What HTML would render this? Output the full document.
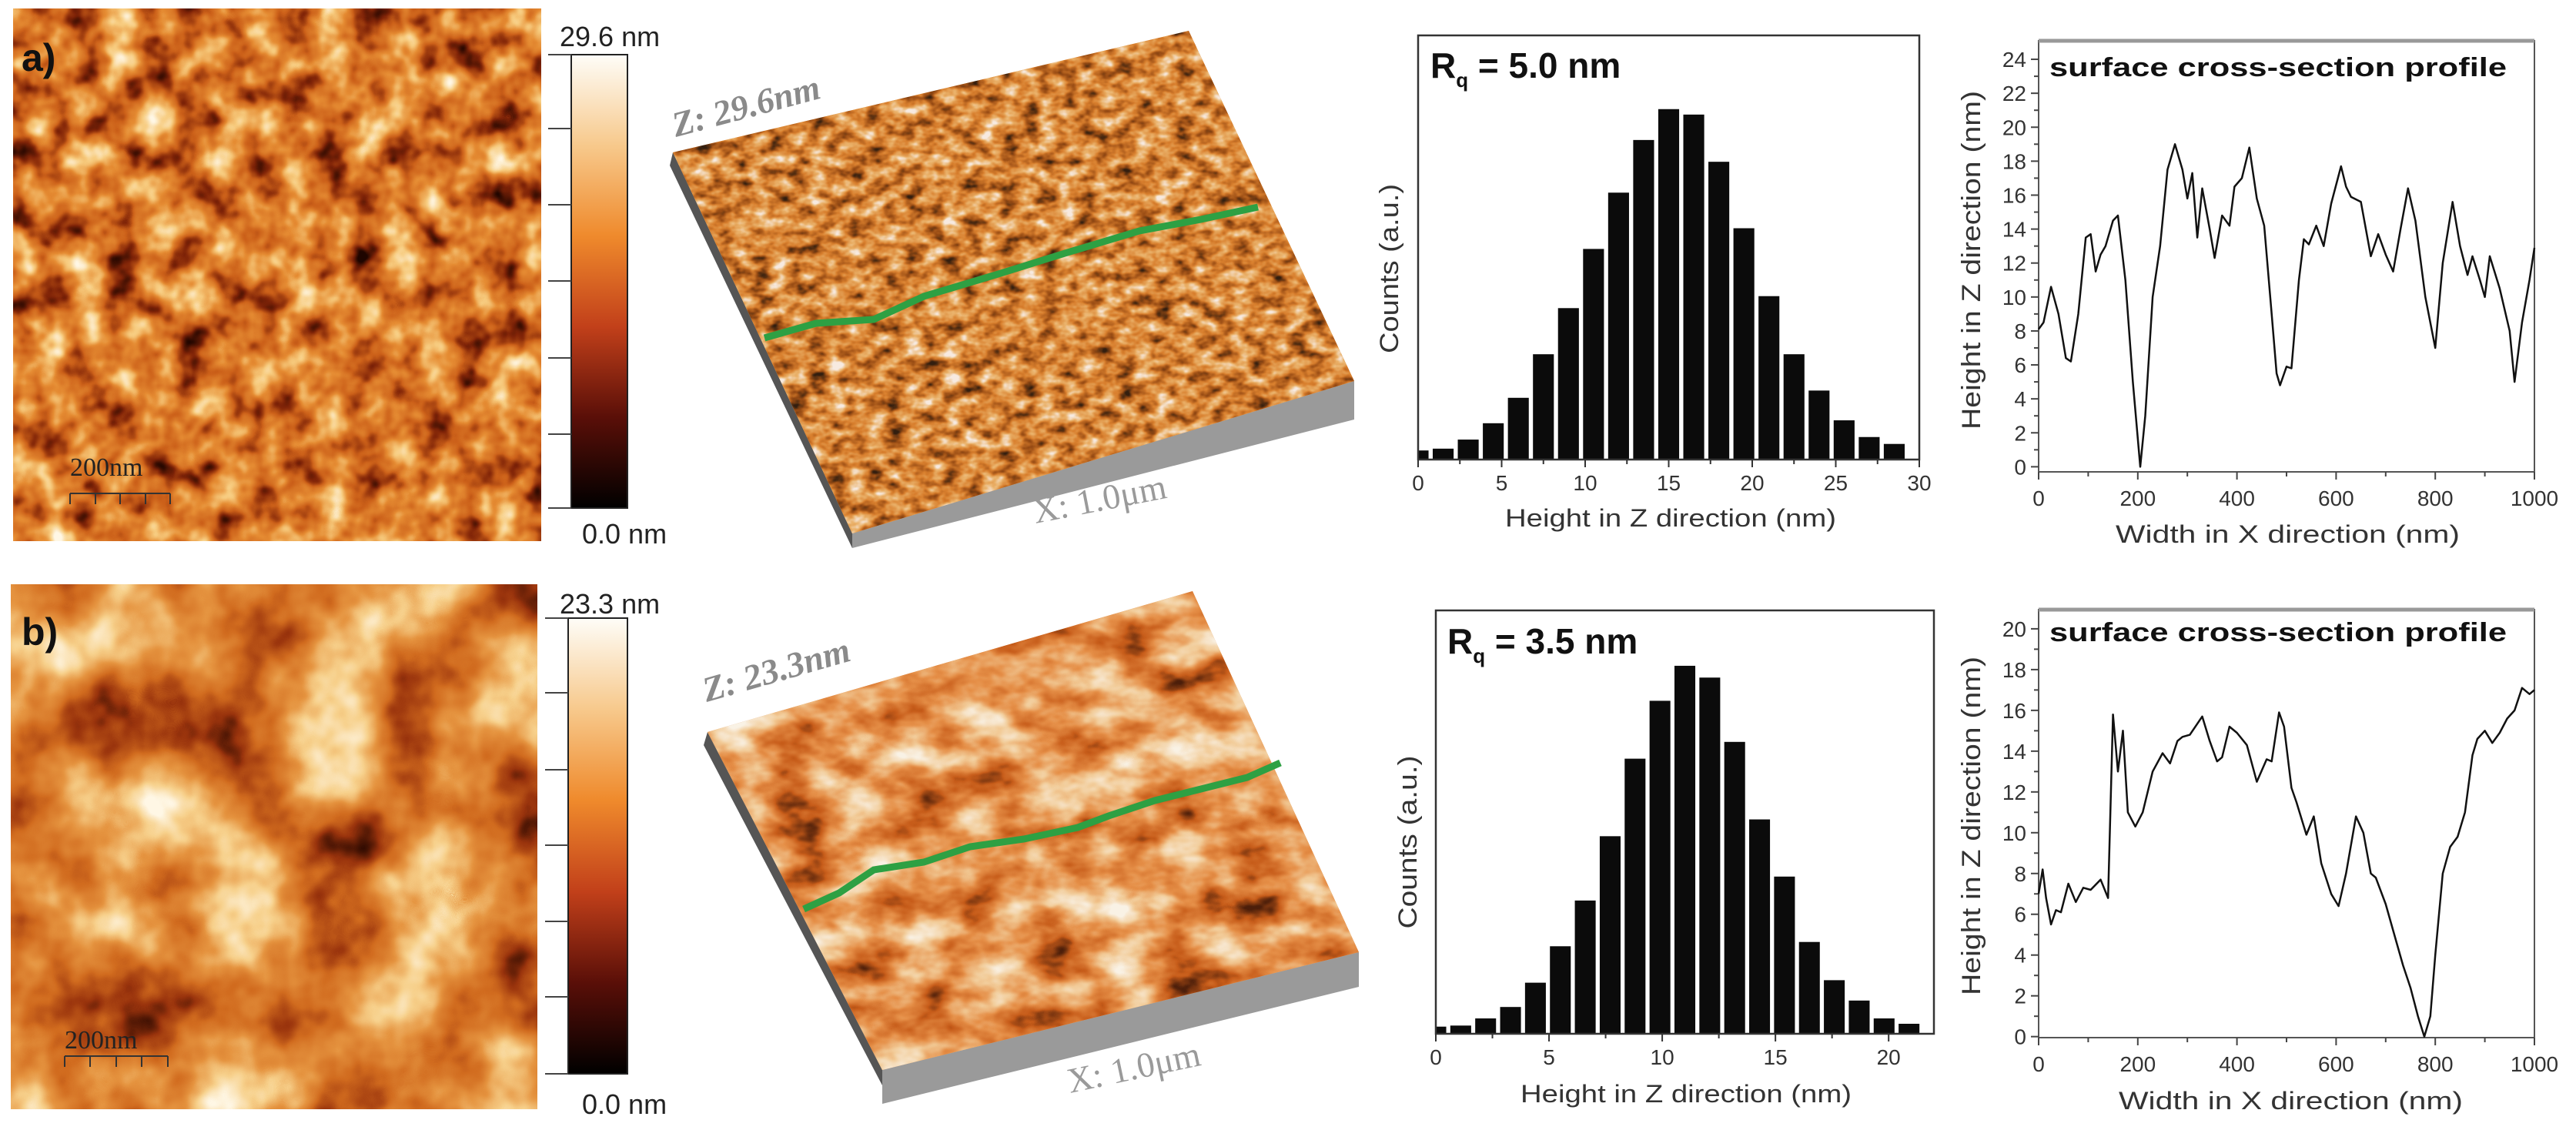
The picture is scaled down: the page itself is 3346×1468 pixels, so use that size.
<!DOCTYPE html>
<html><head><meta charset="utf-8"><style>
html,body{margin:0;padding:0;background:#fff}
svg{display:block}
text{font-family:"Liberation Sans",sans-serif}
text.serif{font-family:"Liberation Serif",serif}
</style></head><body>
<svg id="fig" width="3346" height="1468" viewBox="0 0 3346 1468" xmlns="http://www.w3.org/2000/svg">
<defs>
<filter id="afmA" x="0" y="0" width="100%" height="100%" color-interpolation-filters="sRGB">
<feTurbulence type="fractalNoise" baseFrequency="0.022" numOctaves="3" seed="4"/>
<feColorMatrix type="matrix" values="1.35 0 0 0 -0.17  1.35 0 0 0 -0.17  1.35 0 0 0 -0.17  0 0 0 0 1"/>
<feComponentTransfer><feFuncR type="table" tableValues="0.12 0.5 0.8 0.9 0.97 1"/><feFuncG type="table" tableValues="0.02 0.14 0.38 0.55 0.8 0.97"/><feFuncB type="table" tableValues="0.0 0.03 0.1 0.2 0.5 0.9"/></feComponentTransfer>
</filter>
<filter id="afmB" x="0" y="0" width="100%" height="100%" color-interpolation-filters="sRGB">
<feTurbulence type="fractalNoise" baseFrequency="0.008" numOctaves="4" seed="9"/>
<feColorMatrix type="matrix" values="1.35 0 0 0 -0.15  1.35 0 0 0 -0.15  1.35 0 0 0 -0.15  0 0 0 0 1"/>
<feComponentTransfer><feFuncR type="table" tableValues="0.15 0.6 0.82 0.9 0.97 1"/><feFuncG type="table" tableValues="0.03 0.2 0.42 0.58 0.82 0.97"/><feFuncB type="table" tableValues="0.0 0.05 0.12 0.25 0.55 0.9"/></feComponentTransfer>
</filter>
<filter id="surfA" x="0" y="0" width="100%" height="100%" color-interpolation-filters="sRGB">
<feTurbulence type="fractalNoise" baseFrequency="0.04 0.06" numOctaves="3" seed="2"/>
<feColorMatrix type="matrix" values="1.5 0 0 0 -0.22  1.5 0 0 0 -0.22  1.5 0 0 0 -0.22  0 0 0 0 1"/>
<feComponentTransfer><feFuncR type="table" tableValues="0.2 0.6 0.85 0.92 0.97"/><feFuncG type="table" tableValues="0.12 0.3 0.5 0.7 0.92"/><feFuncB type="table" tableValues="0.06 0.08 0.18 0.42 0.88"/></feComponentTransfer>
</filter>
<filter id="surfB" x="0" y="0" width="100%" height="100%" color-interpolation-filters="sRGB">
<feTurbulence type="fractalNoise" baseFrequency="0.012 0.02" numOctaves="4" seed="5"/>
<feColorMatrix type="matrix" values="1.5 0 0 0 -0.22  1.5 0 0 0 -0.22  1.5 0 0 0 -0.22  0 0 0 0 1"/>
<feComponentTransfer><feFuncR type="table" tableValues="0.3 0.78 0.9 0.95 0.98"/><feFuncG type="table" tableValues="0.12 0.36 0.56 0.8 0.95"/><feFuncB type="table" tableValues="0.04 0.1 0.28 0.6 0.9"/></feComponentTransfer>
</filter>
<linearGradient id="cbar" x1="0" y1="1" x2="0" y2="0">
<stop offset="0" stop-color="#000"/><stop offset="0.2" stop-color="#5a0f08"/><stop offset="0.4" stop-color="#c2401a"/><stop offset="0.6" stop-color="#ef8a2c"/><stop offset="0.8" stop-color="#f7c98c"/><stop offset="1" stop-color="#fefdf8"/>
</linearGradient>
<clipPath id="clipSA"><polygon points="874,198 1544,40 1759,495 1107,693"/></clipPath>
<clipPath id="clipSB"><polygon points="919,951 1549,768 1765,1237 1146,1390"/></clipPath>
</defs>

<!-- Panel a left -->
<g>
<rect x="17" y="11" width="686" height="692" fill="#e07a2a"/>
<rect x="17" y="11" width="686" height="692" filter="url(#afmA)"/>
</g>
<text x="28" y="92" font-size="50" font-weight="bold" fill="#111">a)</text>
<g>
<text class="serif" x="91" y="618" font-size="34" fill="#222">200nm</text>
<path d="M91 641H221M91 641v14M124 641v14M156 641v14M189 641v14M221 641v14" stroke="#333" stroke-width="2" fill="none"/>
</g>
<g>
<rect x="742" y="71" width="73" height="589" fill="url(#cbar)" stroke="#222" stroke-width="2"/>
<path d="M712 71H742M712 167H742M712 266H742M712 365H742M712 465H742M712 564H742M712 660H742" stroke="#444" stroke-width="2"/>
<text x="727" y="60" font-size="36" fill="#222">29.6 nm</text>
<text x="756" y="706" font-size="36" fill="#222">0.0 nm</text>
</g>
<g>
<polygon points="874,198 1107,693 1107,712 870,215" fill="#555"/>
<polygon points="1107,693 1759,495 1759,545 1107,712" fill="#9a9a9a"/>
<g clip-path="url(#clipSA)"><rect x="860" y="30" width="910" height="680" fill="#d9893a"/><rect x="860" y="30" width="910" height="680" filter="url(#surfA)"/></g>
<polyline points="993,439 1060,420 1135,415 1200,385 1300,355 1380,330 1480,300 1560,285 1634,269" fill="none" stroke="#2ea043" stroke-width="9"/>
<text class="serif" transform="translate(878,178) rotate(-15)" font-size="46" font-style="italic" font-weight="bold" fill="#8a8a8a">Z: 29.6nm</text>
<text class="serif" transform="translate(1345,680) rotate(-11)" font-size="46" fill="#9a9a9a">X: 1.0μm</text>
</g>

<!-- Panel b left -->
<g>
<rect x="14" y="759" width="684" height="682" fill="#e28335"/>
<rect x="14" y="759" width="684" height="682" filter="url(#afmB)"/>
</g>
<text x="28" y="838" font-size="50" font-weight="bold" fill="#111">b)</text>
<g>
<text class="serif" x="84" y="1362" font-size="34" fill="#222">200nm</text>
<path d="M84 1372H218M84 1372v14M117 1372v14M151 1372v14M184 1372v14M218 1372v14" stroke="#333" stroke-width="2" fill="none"/>
</g>
<g>
<rect x="738" y="803" width="77" height="592" fill="url(#cbar)" stroke="#222" stroke-width="2"/>
<path d="M708 803H738M708 900H738M708 1000H738M708 1098H738M708 1197H738M708 1295H738M708 1395H738" stroke="#444" stroke-width="2"/>
<text x="727" y="797" font-size="36" fill="#222">23.3 nm</text>
<text x="756" y="1447" font-size="36" fill="#222">0.0 nm</text>
</g>
<g>
<polygon points="919,951 1146,1390 1146,1410 914,968" fill="#555"/>
<polygon points="1146,1390 1765,1237 1765,1282 1146,1434" fill="#9a9a9a"/>
<g clip-path="url(#clipSB)"><rect x="900" y="760" width="880" height="640" fill="#df8640"/><rect x="900" y="760" width="880" height="640" filter="url(#surfB)"/></g>
<polyline points="1044,1181 1090,1160 1135,1130 1200,1120 1260,1100 1330,1090 1400,1075 1440,1060 1500,1040 1560,1025 1620,1010 1663,991" fill="none" stroke="#2ea043" stroke-width="9"/>
<text class="serif" transform="translate(918,912) rotate(-16)" font-size="46" font-style="italic" font-weight="bold" fill="#8a8a8a">Z: 23.3nm</text>
<text class="serif" transform="translate(1390,1420) rotate(-12)" font-size="46" fill="#9a9a9a">X: 1.0μm</text>
</g>

<g id="charts"></g>
</svg>
<script>
// ---- Histogram a data ----
const histABins = [0,1.5,3,4.5,6,7.5,9,10.5,12,13.5,15,16.5,18,19.5,21,22.5,24,25.5,27,28.5];
const histACounts = [25,30,55,100,170,290,417,580,735,880,965,950,820,637,450,290,190,108,62,43];
const histATicks = [0,5,10,15,20,25,30];
// ---- Histogram b data ----
const histBBins = [0,1.1,2.2,3.3,4.4,5.5,6.6,7.7,8.8,9.9,11,12.1,13.2,14.3,15.4,16.5,17.6,18.7,19.8,20.9];
const histBCounts = [20,23,43,75,143,245,373,553,770,932,1030,997,817,600,440,257,150,93,43,28];
const histBTicks = [0,5,10,15,20];
// ---- Profile a data ----
const profAX = [0,10,25,40,55,65,80,95,105,115,125,135,150,160,175,190,205,215,230,245,260,275,290,300,310,320,330,345,355,370,385,395,410,425,440,455,470,480,487,500,510,525,535,545,560,575,590,610,620,630,650,670,685,700,715,730,745,760,780,800,815,835,850,865,875,890,900,910,930,950,960,975,990,1000];
const profAY = [8.1,8.5,10.6,9,6.4,6.2,9,13.5,13.7,11.5,12.5,13,14.5,14.8,11,5,0,3,10,13,17.5,19,17.5,15.8,17.3,13.5,16.4,14,12.3,14.8,14.2,16.5,17,18.8,15.8,14.2,9,5.5,4.8,5.9,5.8,11,13.4,13.1,14.2,13,15.5,17.7,16.5,15.9,15.6,12.4,13.7,12.5,11.5,14,16.4,14.5,10,7,12,15.6,13,11.3,12.4,11,10,12.4,10.5,8,5,8.5,11,12.9];
const profAYTicks = [0,2,4,6,8,10,12,14,16,18,20,22,24];
const profXTicks = [0,200,400,600,800,1000];
// ---- Profile b data ----
const profBX = [0,8,15,25,35,45,60,75,90,105,125,140,150,160,170,180,195,210,230,250,265,280,290,305,330,345,360,370,385,400,420,440,460,470,485,495,510,520,540,555,570,590,605,620,640,655,670,680,700,715,735,750,765,778,790,800,815,830,845,860,875,885,900,915,930,945,960,975,990,1000];
const profBY = [7,8.2,6.8,5.5,6.2,6.1,7.5,6.6,7.3,7.2,7.7,6.8,15.8,13,15,11,10.3,11,13,13.9,13.4,14.5,14.7,14.8,15.7,14.5,13.5,13.7,15.2,14.9,14.3,12.5,13.6,13.5,15.9,15.2,12.2,11.5,9.9,10.8,8.5,7,6.4,8,10.8,10,8,7.8,6.5,5.2,3.5,2.4,1,0,1,4,8,9.3,9.8,11,13.8,14.6,15,14.4,14.9,15.6,16,17.1,16.8,17];
const profBYTicks = [0,2,4,6,8,10,12,14,16,18,20];

const NS = "http://www.w3.org/2000/svg";
const root = document.getElementById('charts');
function mk(tag, attrs, parent, txt){
  const e = document.createElementNS(NS, tag);
  for (const k in attrs) e.setAttribute(k, attrs[k]);
  if (txt !== undefined) e.textContent = txt;
  (parent||root).appendChild(e);
  return e;
}
function linScale(d0,d1,r0,r1){ return v => r0 + (v-d0)/(d1-d0)*(r1-r0); }

function histogram(name, box, bins, counts, xmax, ymax, ticks, barW, rq, labels){
  const g = mk('g', {});
  
  
  const x = linScale(0, xmax, box.x0, box.x1);
  const y = linScale(0, ymax, box.y1, box.y0);
  const cid = name + '-clip';
  const cp = mk('clipPath', {id: cid}, g);
  mk('rect', {x: box.x0, y: box.y0, width: box.x1-box.x0, height: box.y1-box.y0}, cp);
  const bars = mk('g', {'clip-path': 'url(#'+cid+')'}, g);
  for (let i=0;i<bins.length;i++){
    const b = mk('rect', {x: x(bins[i]-barW/2), y: y(counts[i]), width: x(barW)-x(0), height: y(0)-y(counts[i]), fill: '#0b0b0b'}, bars);
    
    
  }
  mk('rect', {x: box.x0, y: box.y0, width: box.x1-box.x0, height: box.y1-box.y0, fill: 'none', stroke: '#333', 'stroke-width': 2.5}, g);
  const step = ticks[1]-ticks[0];
  for (let v=0; v<=xmax+1e-9; v+=step/2){
    const major = Math.abs(v/step - Math.round(v/step))<1e-6;
    mk('line', {x1: x(v), x2: x(v), y1: box.y1, y2: box.y1 + (major?10:6), stroke: '#333', 'stroke-width': 2}, g);
  }
  for (const t of ticks){
    const tl = mk('text', {x: x(t), y: box.y1+40, 'font-size': 28, 'text-anchor': 'middle', fill: '#333'}, g, String(t));
    
    
  }
  const xl = mk('text', {x: labels.xlx, y: labels.xly, 'font-size': 32, fill: '#333', textLength: labels.xlw, lengthAdjust: 'spacingAndGlyphs'}, g, 'Height in Z direction (nm)');
  
  
  const yl = mk('text', {transform: 'translate('+labels.ylx+','+labels.yly+') rotate(-90)', 'font-size': 34, 'text-anchor': 'middle', fill: '#333', textLength: labels.ylw, lengthAdjust: 'spacingAndGlyphs'}, g, 'Counts (a.u.)');
  
  
  const rt = mk('text', {x: rq.x, y: rq.y, 'font-size': 46, 'font-weight': 'bold', fill: '#111'}, g);
  
  
  mk('tspan', {}, rt, 'R');
  mk('tspan', {'font-size': 26, dy: 12}, rt, 'q');
  mk('tspan', {dy: -12}, rt, ' = ' + rq.t);
}

function profile(name, box, xs, ys, ymin, ymax, yticks, labels){
  const g = mk('g', {});
  
  
  const x = linScale(0, 1000, box.x0, box.x1);
  const y = linScale(ymin, ymax, box.y1, box.y0);
  mk('rect', {x: box.x0, y: box.y0, width: box.x1-box.x0, height: box.y1-box.y0, fill: 'none', stroke: '#555', 'stroke-width': 2}, g);
  mk('line', {x1: box.x0, x2: box.x1, y1: box.y0, y2: box.y0, stroke: '#999', 'stroke-width': 5}, g);
  for (let v=yticks[0]; v<=yticks[yticks.length-1]+1e-9; v+=1){
    const major = v%2===0;
    mk('line', {x1: box.x0-(major?10:6), x2: box.x0, y1: y(v), y2: y(v), stroke: '#444', 'stroke-width': 2}, g);
  }
  for (const t of yticks){
    const tl = mk('text', {x: box.x0-16, y: y(t)+10, 'font-size': 28, 'text-anchor': 'end', fill: '#333'}, g, String(t));
    
    
  }
  for (let v=0; v<=1000; v+=100){
    const major = v%200===0;
    mk('line', {x1: x(v), x2: x(v), y1: box.y1, y2: box.y1+(major?10:6), stroke: '#444', 'stroke-width': 2}, g);
  }
  for (const t of profXTicks){
    const tl = mk('text', {x: x(t), y: box.y1+44, 'font-size': 28, 'text-anchor': 'middle', fill: '#333'}, g, String(t));
    
    
  }
  let d = '';
  for (let i=0;i<xs.length;i++) d += (i?'L':'M') + x(xs[i]).toFixed(1) + ' ' + y(ys[i]).toFixed(1);
  const ln = mk('path', {d: d, fill: 'none', stroke: '#111', 'stroke-width': 2.5, 'stroke-linejoin': 'round'}, g);
  
  
  const tt = mk('text', {x: box.x0+14, y: labels.ty, 'font-size': 34, 'font-weight': 'bold', fill: '#111', textLength: 594, lengthAdjust: 'spacingAndGlyphs'}, g, 'surface cross-section profile');
  
  
  const xl = mk('text', {x: labels.xlx, y: labels.xly, 'font-size': 32, fill: '#333', textLength: 447, lengthAdjust: 'spacingAndGlyphs'}, g, 'Width in X direction (nm)');
  
  
  const yl = mk('text', {transform: 'translate(2572,'+labels.yly+') rotate(-90)', 'font-size': 34, 'text-anchor': 'middle', fill: '#333', textLength: 440, lengthAdjust: 'spacingAndGlyphs'}, g, 'Height in Z direction (nm)');
  
  
}

histogram('histogram-a', {x0:1842,x1:2493,y0:46,y1:597}, histABins, histACounts, 30, 1168, histATicks, 1.25,
  {x:1858, y:101, t:'5.0 nm'}, {xlx:1955, xly:684, xlw:430, ylx:1816, yly:349, ylw:220});
histogram('histogram-b', {x0:1865,x1:2512,y0:793,y1:1343}, histBBins, histBCounts, 22, 1185, histBTicks, 0.92,
  {x:1880, y:849, t:'3.5 nm'}, {xlx:1975, xly:1432, xlw:430, ylx:1840, yly:1094, ylw:225});
profile('profile-a', {x0:2648,x1:3292,y0:53,y1:613}, profAX, profAY, -0.3, 25.09, profAYTicks, {ty:99, xlx:2748, xly:705, yly:338});
profile('profile-b', {x0:2648,x1:3292,y0:792,y1:1348}, profBX, profBY, -0.05, 20.94, profBYTicks, {ty:833, xlx:2752, xly:1441, yly:1073});
</script>
</body></html>
